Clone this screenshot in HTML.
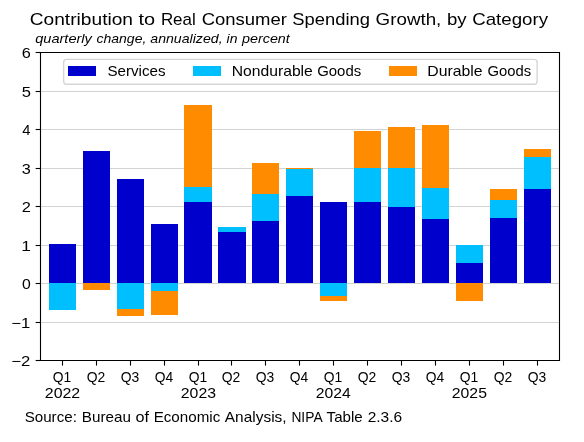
<!DOCTYPE html><html><head><meta charset="utf-8"><style>html,body{margin:0;padding:0;background:#fff;width:584px;height:442px;overflow:hidden}svg{display:block;will-change:transform}text{font-family:"Liberation Sans",sans-serif;fill:#000}</style></head><body>
<svg width="584" height="442" viewBox="0 0 584 442">
<rect x="0" y="0" width="584" height="442" fill="#fff"/>
<line x1="40.5" y1="91.5" x2="559.5" y2="91.5" stroke="#d3d3d3" stroke-width="1.0"/>
<line x1="40.5" y1="129.5" x2="559.5" y2="129.5" stroke="#d3d3d3" stroke-width="1.0"/>
<line x1="40.5" y1="168.5" x2="559.5" y2="168.5" stroke="#d3d3d3" stroke-width="1.0"/>
<line x1="40.5" y1="206.5" x2="559.5" y2="206.5" stroke="#d3d3d3" stroke-width="1.0"/>
<line x1="40.5" y1="245.5" x2="559.5" y2="245.5" stroke="#d3d3d3" stroke-width="1.0"/>
<line x1="40.5" y1="283.5" x2="559.5" y2="283.5" stroke="#d3d3d3" stroke-width="1.0"/>
<line x1="40.5" y1="322.5" x2="559.5" y2="322.5" stroke="#d3d3d3" stroke-width="1.0"/>
<g shape-rendering="crispEdges">
<rect x="49" y="244" width="27" height="39" fill="#0000cd"/>
<rect x="49" y="283" width="27" height="27" fill="#00bfff"/>
<rect x="83" y="151" width="27" height="132" fill="#0000cd"/>
<rect x="83" y="283" width="27" height="7" fill="#ff8c00"/>
<rect x="117" y="179" width="27" height="104" fill="#0000cd"/>
<rect x="117" y="283" width="27" height="26" fill="#00bfff"/>
<rect x="117" y="309" width="27" height="7" fill="#ff8c00"/>
<rect x="151" y="224" width="27" height="59" fill="#0000cd"/>
<rect x="151" y="283" width="27" height="8" fill="#00bfff"/>
<rect x="151" y="291" width="27" height="24" fill="#ff8c00"/>
<rect x="184" y="202" width="28" height="81" fill="#0000cd"/>
<rect x="184" y="187" width="28" height="15" fill="#00bfff"/>
<rect x="184" y="105" width="28" height="82" fill="#ff8c00"/>
<rect x="218" y="232" width="28" height="51" fill="#0000cd"/>
<rect x="218" y="227" width="28" height="5" fill="#00bfff"/>
<rect x="252" y="221" width="27" height="62" fill="#0000cd"/>
<rect x="252" y="194" width="27" height="27" fill="#00bfff"/>
<rect x="252" y="163" width="27" height="31" fill="#ff8c00"/>
<rect x="286" y="196" width="27" height="87" fill="#0000cd"/>
<rect x="286" y="169" width="27" height="27" fill="#00bfff"/>
<rect x="286" y="168" width="27" height="1" fill="#ff8c00"/>
<rect x="320" y="202" width="27" height="81" fill="#0000cd"/>
<rect x="320" y="283" width="27" height="13" fill="#00bfff"/>
<rect x="320" y="296" width="27" height="5" fill="#ff8c00"/>
<rect x="354" y="202" width="27" height="81" fill="#0000cd"/>
<rect x="354" y="168" width="27" height="34" fill="#00bfff"/>
<rect x="354" y="131" width="27" height="37" fill="#ff8c00"/>
<rect x="388" y="207" width="27" height="76" fill="#0000cd"/>
<rect x="388" y="168" width="27" height="39" fill="#00bfff"/>
<rect x="388" y="127" width="27" height="41" fill="#ff8c00"/>
<rect x="422" y="219" width="27" height="64" fill="#0000cd"/>
<rect x="422" y="188" width="27" height="31" fill="#00bfff"/>
<rect x="422" y="125" width="27" height="63" fill="#ff8c00"/>
<rect x="456" y="263" width="27" height="20" fill="#0000cd"/>
<rect x="456" y="245" width="27" height="18" fill="#00bfff"/>
<rect x="456" y="283" width="27" height="18" fill="#ff8c00"/>
<rect x="490" y="218" width="27" height="65" fill="#0000cd"/>
<rect x="490" y="200" width="27" height="18" fill="#00bfff"/>
<rect x="490" y="189" width="27" height="11" fill="#ff8c00"/>
<rect x="524" y="189" width="27" height="94" fill="#0000cd"/>
<rect x="524" y="157" width="27" height="32" fill="#00bfff"/>
<rect x="524" y="149" width="27" height="8" fill="#ff8c00"/>
</g>
<path d="M40.5 52.5 H559.5 V360.5 H40.5 Z" fill="none" stroke="#000" stroke-width="1.1" stroke-linejoin="miter"/>
<line x1="35.65" y1="52.5" x2="40.5" y2="52.5" stroke="#000" stroke-width="1.1"/>
<line x1="35.65" y1="91.5" x2="40.5" y2="91.5" stroke="#000" stroke-width="1.1"/>
<line x1="35.65" y1="129.5" x2="40.5" y2="129.5" stroke="#000" stroke-width="1.1"/>
<line x1="35.65" y1="168.5" x2="40.5" y2="168.5" stroke="#000" stroke-width="1.1"/>
<line x1="35.65" y1="206.5" x2="40.5" y2="206.5" stroke="#000" stroke-width="1.1"/>
<line x1="35.65" y1="245.5" x2="40.5" y2="245.5" stroke="#000" stroke-width="1.1"/>
<line x1="35.65" y1="283.5" x2="40.5" y2="283.5" stroke="#000" stroke-width="1.1"/>
<line x1="35.65" y1="322.5" x2="40.5" y2="322.5" stroke="#000" stroke-width="1.1"/>
<line x1="35.65" y1="360.5" x2="40.5" y2="360.5" stroke="#000" stroke-width="1.1"/>
<line x1="62.5" y1="360.5" x2="62.5" y2="365.6" stroke="#000" stroke-width="1.1"/>
<line x1="96.5" y1="360.5" x2="96.5" y2="365.6" stroke="#000" stroke-width="1.1"/>
<line x1="130.5" y1="360.5" x2="130.5" y2="365.6" stroke="#000" stroke-width="1.1"/>
<line x1="164.5" y1="360.5" x2="164.5" y2="365.6" stroke="#000" stroke-width="1.1"/>
<line x1="198.5" y1="360.5" x2="198.5" y2="365.6" stroke="#000" stroke-width="1.1"/>
<line x1="231.5" y1="360.5" x2="231.5" y2="365.6" stroke="#000" stroke-width="1.1"/>
<line x1="265.5" y1="360.5" x2="265.5" y2="365.6" stroke="#000" stroke-width="1.1"/>
<line x1="299.5" y1="360.5" x2="299.5" y2="365.6" stroke="#000" stroke-width="1.1"/>
<line x1="333.5" y1="360.5" x2="333.5" y2="365.6" stroke="#000" stroke-width="1.1"/>
<line x1="367.5" y1="360.5" x2="367.5" y2="365.6" stroke="#000" stroke-width="1.1"/>
<line x1="401.5" y1="360.5" x2="401.5" y2="365.6" stroke="#000" stroke-width="1.1"/>
<line x1="435.5" y1="360.5" x2="435.5" y2="365.6" stroke="#000" stroke-width="1.1"/>
<line x1="469.5" y1="360.5" x2="469.5" y2="365.6" stroke="#000" stroke-width="1.1"/>
<line x1="503.5" y1="360.5" x2="503.5" y2="365.6" stroke="#000" stroke-width="1.1"/>
<line x1="537.5" y1="360.5" x2="537.5" y2="365.6" stroke="#000" stroke-width="1.1"/>
<rect x="63.65" y="59.4" width="473.5" height="24.9" rx="3" ry="3" fill="#fff" stroke="#d6d6d6" stroke-width="1.39"/>
<g shape-rendering="crispEdges">
<rect x="68" y="66" width="28" height="10" fill="#0000cd"/>
<rect x="193" y="66" width="28" height="10" fill="#00bfff"/>
<rect x="389" y="66" width="28" height="10" fill="#ff8c00"/>
</g>
<text x="29.74" y="24.85" font-size="17.00" textLength="103.28" lengthAdjust="spacingAndGlyphs">Contribution</text>
<text x="138.57" y="24.85" font-size="17.00" textLength="16.64" lengthAdjust="spacingAndGlyphs">to</text>
<text x="160.89" y="24.85" font-size="17.00" textLength="34.86" lengthAdjust="spacingAndGlyphs">Real</text>
<text x="201.70" y="24.85" font-size="17.00" textLength="85.25" lengthAdjust="spacingAndGlyphs">Consumer</text>
<text x="292.24" y="24.85" font-size="17.00" textLength="77.69" lengthAdjust="spacingAndGlyphs">Spending</text>
<text x="375.61" y="24.85" font-size="17.00" textLength="65.69" lengthAdjust="spacingAndGlyphs">Growth,</text>
<text x="446.95" y="24.85" font-size="17.00" textLength="19.66" lengthAdjust="spacingAndGlyphs">by</text>
<text x="472.15" y="24.85" font-size="17.00" textLength="75.94" lengthAdjust="spacingAndGlyphs">Category</text>
<text x="35.19" y="42.70" font-size="13.20" textLength="56.68" lengthAdjust="spacingAndGlyphs" font-style="italic">quarterly</text>
<text x="96.48" y="42.70" font-size="13.20" textLength="49.89" lengthAdjust="spacingAndGlyphs" font-style="italic">change,</text>
<text x="150.32" y="42.70" font-size="13.20" textLength="72.25" lengthAdjust="spacingAndGlyphs" font-style="italic">annualized,</text>
<text x="226.59" y="42.70" font-size="13.20" textLength="10.91" lengthAdjust="spacingAndGlyphs" font-style="italic">in</text>
<text x="242.08" y="42.70" font-size="13.20" textLength="47.74" lengthAdjust="spacingAndGlyphs" font-style="italic">percent</text>
<text x="107.42" y="76.00" font-size="14.50" textLength="58.13" lengthAdjust="spacingAndGlyphs">Services</text>
<text x="231.72" y="76.00" font-size="14.50" textLength="81.10" lengthAdjust="spacingAndGlyphs">Nondurable</text>
<text x="317.18" y="76.00" font-size="14.50" textLength="44.04" lengthAdjust="spacingAndGlyphs">Goods</text>
<text x="427.36" y="76.00" font-size="14.50" textLength="55.28" lengthAdjust="spacingAndGlyphs">Durable</text>
<text x="487.44" y="76.00" font-size="14.50" textLength="43.67" lengthAdjust="spacingAndGlyphs">Goods</text>
<text x="24.66" y="422.00" font-size="14.40" textLength="52.23" lengthAdjust="spacingAndGlyphs">Source:</text>
<text x="81.78" y="422.00" font-size="14.40" textLength="49.08" lengthAdjust="spacingAndGlyphs">Bureau</text>
<text x="135.43" y="422.00" font-size="14.40" textLength="13.51" lengthAdjust="spacingAndGlyphs">of</text>
<text x="153.65" y="422.00" font-size="14.40" textLength="66.57" lengthAdjust="spacingAndGlyphs">Economic</text>
<text x="224.81" y="422.00" font-size="14.40" textLength="61.78" lengthAdjust="spacingAndGlyphs">Analysis,</text>
<text x="291.41" y="422.00" font-size="14.40" textLength="31.20" lengthAdjust="spacingAndGlyphs">NIPA</text>
<text x="326.61" y="422.00" font-size="14.40" textLength="36.08" lengthAdjust="spacingAndGlyphs">Table</text>
<text x="367.71" y="422.00" font-size="14.40" textLength="34.43" lengthAdjust="spacingAndGlyphs">2.3.6</text>
<text x="21.88" y="57.70" font-size="14.00" textLength="9.07" lengthAdjust="spacingAndGlyphs">6</text>
<text x="21.67" y="96.70" font-size="14.00" textLength="9.22" lengthAdjust="spacingAndGlyphs">5</text>
<text x="22.34" y="134.70" font-size="14.00" textLength="8.24" lengthAdjust="spacingAndGlyphs">4</text>
<text x="21.84" y="173.70" font-size="14.00" textLength="9.06" lengthAdjust="spacingAndGlyphs">3</text>
<text x="21.83" y="211.70" font-size="14.00" textLength="9.14" lengthAdjust="spacingAndGlyphs">2</text>
<text x="21.38" y="250.70" font-size="14.00" textLength="9.65" lengthAdjust="spacingAndGlyphs">1</text>
<text x="22.06" y="288.70" font-size="14.00" textLength="8.77" lengthAdjust="spacingAndGlyphs">0</text>
<text x="11.20" y="327.70" font-size="14.00" textLength="18.97" lengthAdjust="spacingAndGlyphs">−1</text>
<text x="11.20" y="365.70" font-size="14.00" textLength="19.06" lengthAdjust="spacingAndGlyphs">−2</text>
<text x="52.68" y="382.40" font-size="14.20" textLength="18.50" lengthAdjust="spacingAndGlyphs">Q1</text>
<text x="44.80" y="397.80" font-size="14.00" textLength="35.39" lengthAdjust="spacingAndGlyphs">2022</text>
<text x="86.68" y="382.40" font-size="14.20" textLength="18.57" lengthAdjust="spacingAndGlyphs">Q2</text>
<text x="120.68" y="382.40" font-size="14.20" textLength="18.55" lengthAdjust="spacingAndGlyphs">Q3</text>
<text x="154.72" y="382.40" font-size="14.20" textLength="18.44" lengthAdjust="spacingAndGlyphs">Q4</text>
<text x="188.68" y="382.40" font-size="14.20" textLength="18.50" lengthAdjust="spacingAndGlyphs">Q1</text>
<text x="180.80" y="397.80" font-size="14.00" textLength="35.19" lengthAdjust="spacingAndGlyphs">2023</text>
<text x="221.68" y="382.40" font-size="14.20" textLength="18.57" lengthAdjust="spacingAndGlyphs">Q2</text>
<text x="255.68" y="382.40" font-size="14.20" textLength="18.55" lengthAdjust="spacingAndGlyphs">Q3</text>
<text x="289.72" y="382.40" font-size="14.20" textLength="18.44" lengthAdjust="spacingAndGlyphs">Q4</text>
<text x="323.68" y="382.40" font-size="14.20" textLength="18.50" lengthAdjust="spacingAndGlyphs">Q1</text>
<text x="315.80" y="397.80" font-size="14.00" textLength="34.98" lengthAdjust="spacingAndGlyphs">2024</text>
<text x="357.68" y="382.40" font-size="14.20" textLength="18.57" lengthAdjust="spacingAndGlyphs">Q2</text>
<text x="391.68" y="382.40" font-size="14.20" textLength="18.55" lengthAdjust="spacingAndGlyphs">Q3</text>
<text x="425.72" y="382.40" font-size="14.20" textLength="18.44" lengthAdjust="spacingAndGlyphs">Q4</text>
<text x="459.68" y="382.40" font-size="14.20" textLength="18.50" lengthAdjust="spacingAndGlyphs">Q1</text>
<text x="451.80" y="397.80" font-size="14.00" textLength="35.15" lengthAdjust="spacingAndGlyphs">2025</text>
<text x="493.68" y="382.40" font-size="14.20" textLength="18.57" lengthAdjust="spacingAndGlyphs">Q2</text>
<text x="527.68" y="382.40" font-size="14.20" textLength="18.55" lengthAdjust="spacingAndGlyphs">Q3</text>
</svg></body></html>
